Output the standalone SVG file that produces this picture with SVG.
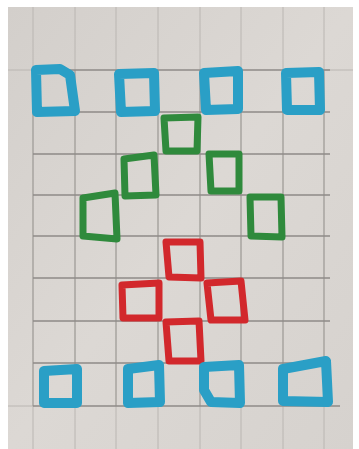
<svg xmlns="http://www.w3.org/2000/svg" width="359" height="449" viewBox="0 0 359 449">
<style>
.grid{stroke:#a29f9b;stroke-width:1.1;fill:none}
.hgrid{stroke:#8f8b88;stroke-width:1.4;fill:none}
.faint{stroke:#bab6b2;stroke-width:1;fill:none}
.blue{fill:none;stroke:#2a9fc6;stroke-width:10;stroke-linejoin:round}
.green{fill:none;stroke:#2f8a3c;stroke-width:7;stroke-linejoin:round}
.red{fill:none;stroke:#d2282c;stroke-width:7;stroke-linejoin:round}
</style>
<defs>
<linearGradient id="paper" x1="0" y1="0" x2="1" y2="1">
<stop offset="0" stop-color="#d3cfcb"/>
<stop offset="0.5" stop-color="#dcd8d4"/>
<stop offset="1" stop-color="#d6d2ce"/>
</linearGradient>
</defs>
<rect width="359" height="449" fill="#ffffff"/>
<rect x="8" y="7" width="345" height="442" fill="url(#paper)"/>
<g id="paper-grid">
<path class="faint" d="M33,7V449M75,7V449M116,7V449M158,7V449M200,7V449M241,7V449M283,7V449M324,7V449M8,70H33M324,70H353M8,406H33"/>
<path class="grid" d="M33,70V406M75,70V406M116,70V406M158,70V406M200,70V406M241,70V406M283,70V406M324,70V406"/>
<path class="hgrid" d="M33,70H330M33,112H330M33,154H330M33,195H330M33,236H330M33,278H330M33,321H330M33,363H330M33,406H340"/>
</g>
<g id="blue-top">
<polygon class="blue" points="36,70 60,69 70,75 75,111 37,112"/>
<polygon class="blue" points="119,74 154,73 155,111 121,112"/>
<polygon class="blue" points="204,73 238,71 238,109 206,110"/>
<polygon class="blue" points="286,73 319,72 320,110 287,110"/>
</g>
<g id="green">
<polygon class="green" points="164,118 198,117 197,151 166,151"/>
<polygon class="green" points="124,159 154,155 156,195 125,196"/>
<polygon class="green" points="209,154 239,154 239,191 211,191"/>
<polygon class="green" points="83,198 115,193 117,239 83,236"/>
<polygon class="green" points="250,197 281,197 282,237 251,236"/>
</g>
<g id="red">
<polygon class="red" points="166,242 200,242 201,278 169,277"/>
<polygon class="red" points="122,285 159,283 159,318 123,318"/>
<polygon class="red" points="207,283 241,281 245,320 211,320"/>
<polygon class="red" points="166,322 199,321 201,361 169,361"/>
</g>
<g id="blue-bottom">
<polygon class="blue" points="44,371 77,369 77,403 44,403"/>
<polygon class="blue" points="128,369 159,365 160,402 128,403"/>
<polygon class="blue" points="204,367 239,365 240,403 211,402 204,390"/>
<polygon class="blue" points="283,369 326,361 328,402 283,401"/>
</g>
</svg>
